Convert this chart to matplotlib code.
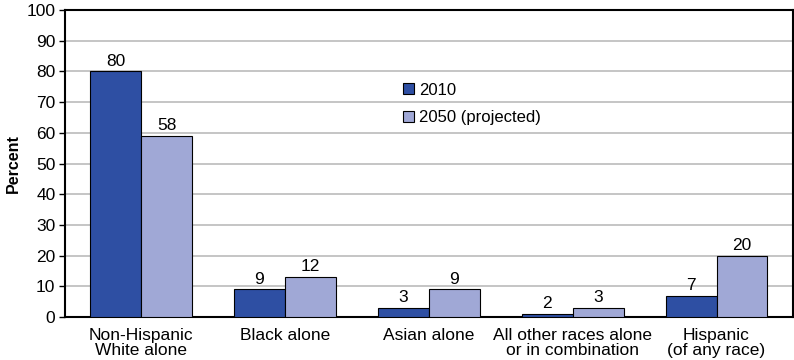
import matplotlib
matplotlib.use("Agg")
import matplotlib.pyplot as plt
import numpy as np

plt.rcParams['font.family'] = ['Liberation Sans', 'DejaVu Sans']

categories = ["Non-Hispanic\nWhite alone", "Black alone", "Asian alone",
              "All other races alone\nor in combination", "Hispanic\n(of any race)"]
values_2010 = [80, 9, 3, 1, 7]
values_2050 = [59, 13, 9, 3, 20]
labels_2010 = ["80", "9", "3", "2", "7"]
labels_2050 = ["58", "12", "9", "3", "20"]
series_names = ["2010", "2050 (projected)"]
yticks = [0, 10, 20, 30, 40, 50, 60, 70, 80, 90, 100]

c2010 = "#2E4FA3"
c2050 = "#A0A8D6"
fs = 12.5

fig = plt.figure(figsize=(7.94, 3.6), dpi=100)
ax = fig.add_axes([0.082, 0.1194, 0.9165, 0.8528])

x = np.arange(len(categories))
w = 0.354
b1 = ax.bar(x - w/2, values_2010, w, color=c2010, edgecolor="black", linewidth=0.8,
            label=series_names[0], zorder=3)
b2 = ax.bar(x + w/2, values_2050, w, color=c2050, edgecolor="black", linewidth=0.8,
            label=series_names[1], zorder=3)

for bars, labs in ((b1, labels_2010), (b2, labels_2050)):
    for rect, lab in zip(bars, labs):
        ax.annotate(lab, (rect.get_x() + rect.get_width()/2, rect.get_height()),
                    xytext=(0, 2), textcoords="offset points", ha="center", va="bottom",
                    fontsize=fs)

ax.set_xlim(-0.528, 4.53)
ax.set_ylim(0, 100)
ax.set_yticks(yticks)
ax.set_yticklabels([str(t) for t in yticks], fontsize=fs)
ax.set_xticks(x)
ax.set_xticklabels(categories, fontsize=fs, linespacing=1.0)
ax.tick_params(axis='x', length=0, pad=8)
ax.tick_params(axis='y', length=4, width=1, pad=3)
ax.yaxis.grid(True, color="#BBBBBB", linewidth=1.2, zorder=0)
ax.set_axisbelow(True)
for s in ax.spines.values():
    s.set_linewidth(1.5)
    s.set_color("black")
ax.set_ylabel("Percent", fontsize=11.5, fontweight="bold", labelpad=4)

leg = ax.legend(loc="upper left", bbox_to_anchor=(0.455, 0.785), frameon=False,
                fontsize=12, handlelength=0.65, handleheight=0.65, handletextpad=0.3,
                labelspacing=0.75, borderaxespad=0)
for h in leg.legend_handles:
    h.set_edgecolor("black")
    h.set_linewidth(0.8)

fig.savefig("out.png", dpi=100)
